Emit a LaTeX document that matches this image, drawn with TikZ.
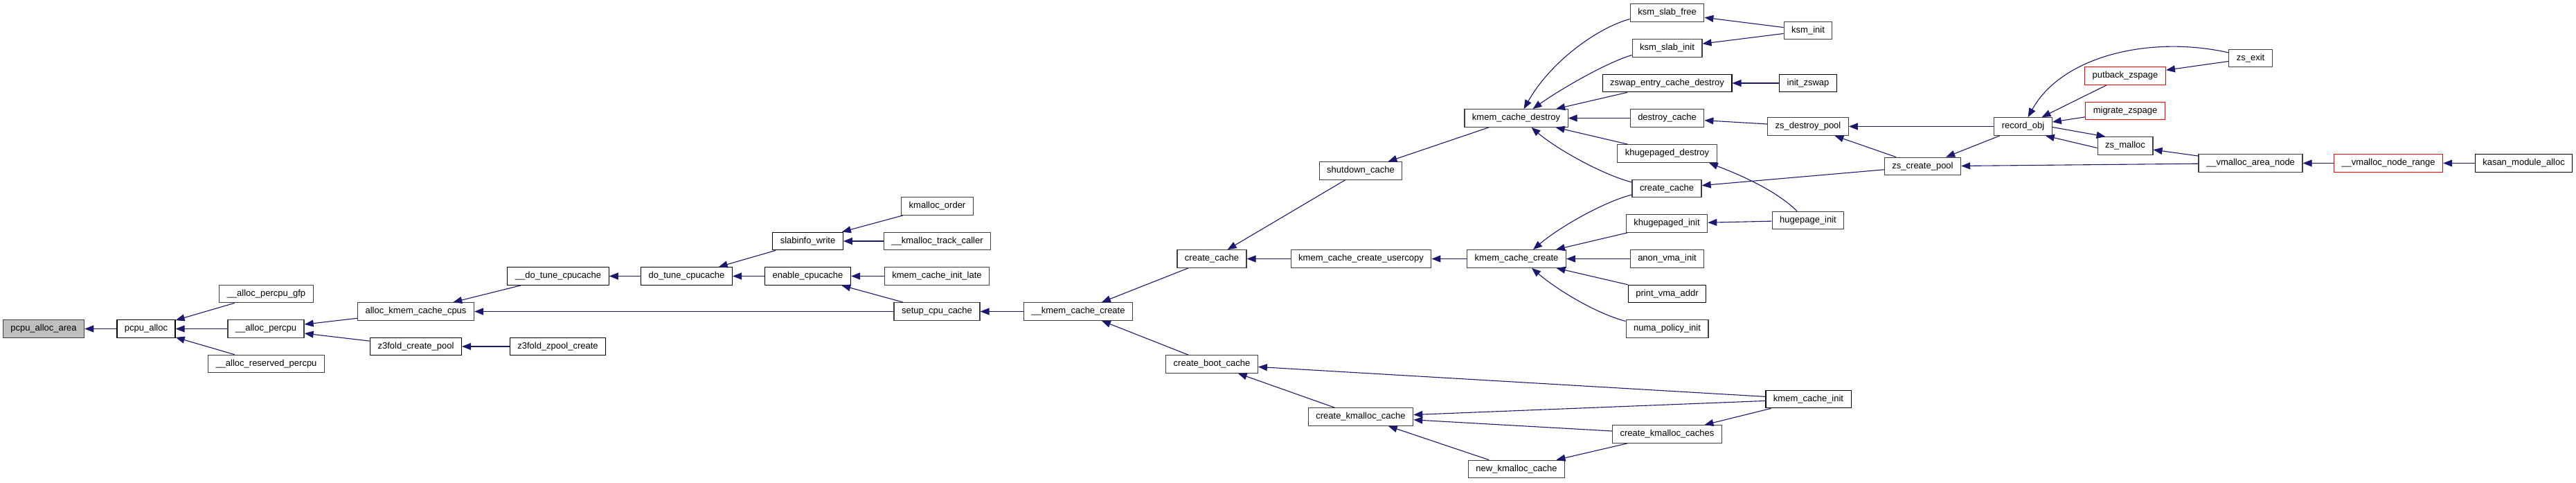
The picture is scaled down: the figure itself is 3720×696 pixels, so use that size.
\documentclass[tikz,border=0pt]{standalone}
\usepackage{fontspec}
\setmainfont{Liberation Sans}
\usetikzlibrary{arrows.meta}

\definecolor{edgeblue}{HTML}{191970}
\definecolor{undoc}{HTML}{404040}
\definecolor{rootfill}{HTML}{BFBFBF}

\begin{document}
\begin{tikzpicture}[
    x=1pt, y=-1pt,
    fn/.style={rectangle, draw=undoc, line width=1.2pt, fill=white, minimum height=25.5pt,
               inner xsep=11pt, inner ysep=0pt, font=\fontsize{13}{15}\selectfont},
    doc/.style={fn, draw=black},
    root/.style={fn, fill=rootfill},
    trunc/.style={fn, draw=red},
    call/.style={edgeblue, line width=1.1pt, -{Triangle[length=13pt, width=10pt]}},
]
    \useasboundingbox (0,0) rectangle (3720,696);

    % --- Root and percpu allocators ---
    \node[root] (pcpuArea)    at (63, 474.5)    {pcpu\_alloc\_area};
    \node[doc]  (pcpuAlloc)   at (211, 474.5)   {pcpu\_alloc};
    \node[fn]   (allocGfp)    at (384.5, 424)   {\_\_alloc\_percpu\_gfp};
    \node[fn]   (allocPercpu) at (384, 474.5)   {\_\_alloc\_percpu};
    \node[fn]   (allocRes)    at (384.5, 525)   {\_\_alloc\_reserved\_percpu};

    % --- cpu caches ---
    \node[fn]  (kcCpus)    at (600.5, 449.5)  {alloc\_kmem\_cache\_cpus};
    \node[doc] (zfPool)    at (600.5, 500)    {z3fold\_create\_pool};
    \node[doc] (doTuneU)   at (806, 398.5)    {\_\_do\_tune\_cpucache};
    \node[doc] (zfZpool)   at (805.5, 500)    {z3fold\_zpool\_create};
    \node[doc] (doTune)    at (991.5, 398.5)  {do\_tune\_cpucache};
    \node[doc] (slabWrite) at (1166.5, 348)   {slabinfo\_write};
    \node[doc] (enableCc)  at (1166.5, 398.5) {enable\_cpucache};
    \node[fn]  (kmOrder)   at (1353.5, 297.5) {kmalloc\_order};
    \node[fn]  (kmTrack)   at (1353.5, 348)   {\_\_kmalloc\_track\_caller};
    \node[fn]  (initLate)  at (1353, 398.5)   {kmem\_cache\_init\_late};
    \node[fn]  (setupCc)   at (1353, 449.5)   {setup\_cpu\_cache};

    % --- cache creation ---
    \node[fn] (kcCreateU)    at (1557, 449.5)   {\_\_kmem\_cache\_create};
    \node[fn] (createCacheL) at (1750, 373.5)   {create\_cache};
    \node[fn] (bootCache)    at (1750, 525.5)   {create\_boot\_cache};
    \node[fn] (shutdown)     at (1965, 246.5)   {shutdown\_cache};
    \node[fn] (usercopy)     at (1965.5, 373.5) {kmem\_cache\_create\_usercopy};
    \node[fn] (kmalCache)    at (1965, 601.5)   {create\_kmalloc\_cache};
    \node[fn] (kcDestroy)    at (2189.5, 170.5) {kmem\_cache\_destroy};
    \node[fn] (kcCreate)     at (2190, 373.5)   {kmem\_cache\_create};
    \node[fn] (newKmal)      at (2190, 677)     {new\_kmalloc\_cache};

    % --- callers of destroy / create ---
    \node[fn]  (ksmFree)      at (2407.5, 18.5)  {ksm\_slab\_free};
    \node[fn]  (ksmSInit)     at (2407.5, 69.5)  {ksm\_slab\_init};
    \node[doc] (zswapDestroy) at (2407.5, 120)   {zswap\_entry\_cache\_destroy};
    \node[fn]  (destroyCache) at (2407.5, 170.5) {destroy\_cache};
    \node[fn]  (khDestroy)    at (2407.5, 221.5) {khugepaged\_destroy};
    \node[fn]  (createCacheR) at (2407, 272)     {create\_cache};
    \node[fn]  (khInit)       at (2407, 322.5)   {khugepaged\_init};
    \node[fn]  (anonInit)     at (2407.5, 373.5) {anon\_vma\_init};
    \node[doc] (printVma)     at (2407.5, 424)   {print\_vma\_addr};
    \node[fn]  (numaInit)     at (2407.5, 474.5) {numa\_policy\_init};
    \node[fn]  (kmalCaches)   at (2407.5, 626.5) {create\_kmalloc\_caches};

    \node[fn]  (ksmInit)   at (2611, 44)      {ksm\_init};
    \node[doc] (initZswap) at (2611, 120)     {init\_zswap};
    \node[fn]  (zsDestroy) at (2611, 182.5)   {zs\_destroy\_pool};
    \node[fn]  (hugeInit)  at (2611, 318)     {hugepage\_init};
    \node[doc] (kcInit)    at (2611.5, 576)   {kmem\_cache\_init};

    % --- zsmalloc and vmalloc ---
    \node[fn]    (zsCreate)  at (2776.5, 240)   {zs\_create\_pool};
    \node[fn]    (recordObj) at (2921.5, 182.5) {record\_obj};
    \node[trunc] (putback)   at (3069, 109.5)   {putback\_zspage};
    \node[trunc] (migrate)   at (3069, 160)     {migrate\_zspage};
    \node[fn]    (zsMalloc)  at (3069, 210.5)   {zs\_malloc};
    \node[fn]    (zsExit)    at (3250, 84)      {zs\_exit};
    \node[fn]    (vmArea)    at (3250, 235.5)   {\_\_vmalloc\_area\_node};
    \node[trunc] (vmRange)   at (3449, 235.5)   {\_\_vmalloc\_node\_range};
    \node[doc]   (kasan)     at (3644.5, 235.5) {kasan\_module\_alloc};

    % --- Calls, left part ---
    \draw[call] (pcpuAlloc) -- (pcpuArea);
    \draw[call] (allocGfp) -- (pcpuAlloc);
    \draw[call] (allocPercpu) -- (pcpuAlloc);
    \draw[call] (allocRes) -- (pcpuAlloc);
    \draw[call] (kcCpus) -- (allocPercpu);
    \draw[call] (zfPool) -- (allocPercpu);
    \draw[call] (doTuneU) -- (kcCpus);
    \draw[call] (setupCc) -- (kcCpus);
    \draw[call] (zfZpool) -- (zfPool);
    \draw[call] (doTune) -- (doTuneU);
    \draw[call] (slabWrite) -- (doTune);
    \draw[call] (enableCc) -- (doTune);
    \draw[call] (kmOrder) -- (slabWrite);
    \draw[call] (kmTrack) -- (slabWrite);
    \draw[call] (initLate) -- (enableCc);
    \draw[call] (setupCc) -- (enableCc);
    \draw[call] (kcCreateU) -- (setupCc);

    % --- Calls, middle part ---
    \draw[call] (createCacheL) -- (kcCreateU);
    \draw[call] (bootCache) -- (kcCreateU);
    \draw[call] (shutdown) -- (createCacheL);
    \draw[call] (usercopy) -- (createCacheL);
    \draw[call] (kcInit) -- (bootCache);
    \draw[call] (kmalCache) -- (bootCache);
    \draw[call] (kcDestroy) -- (shutdown);
    \draw[call] (kcCreate) -- (usercopy);
    \draw[call] (kcInit) -- (kmalCache);
    \draw[call] (kmalCaches) -- (kmalCache);
    \draw[call] (newKmal) -- (kmalCache);
    \draw[call] (kmalCaches) -- (newKmal);
    \draw[call] (kcInit) -- (kmalCaches);

    \draw[call] ([yshift=-9pt]ksmFree.west) .. controls +(-45,12) and +(40,-70) .. ([xshift=11pt]kcDestroy.north);
    \draw[call] ([yshift=-10pt]ksmSInit.west) .. controls +(-40,12) and +(35,-25) .. ([xshift=24pt]kcDestroy.north);
    \draw[call] (zswapDestroy) -- (kcDestroy);
    \draw[call] (destroyCache) -- (kcDestroy);
    \draw[call] (khDestroy) -- (kcDestroy);
    \draw[call] ([yshift=9pt]createCacheR.west) .. controls +(-45,-12) and +(35,30) .. ([xshift=22pt]kcDestroy.south);
    \draw[call] ([yshift=-9pt]createCacheR.west) .. controls +(-45,12) and +(35,-30) .. ([xshift=24pt]kcCreate.north);
    \draw[call] (khInit) -- (kcCreate);
    \draw[call] (anonInit) -- (kcCreate);
    \draw[call] (printVma) -- (kcCreate);
    \draw[call] ([yshift=11pt]numaInit.west) .. controls +(-45,-12) and +(35,30) .. ([xshift=22pt]kcCreate.south);

    % --- Calls, right part ---
    \draw[call] (ksmInit) -- (ksmFree);
    \draw[call] (ksmInit) -- (ksmSInit);
    \draw[call] (initZswap) -- (zswapDestroy);
    \draw[call] (zsDestroy) -- (destroyCache);
    \draw[call] ([xshift=-16pt]hugeInit.north) .. controls +(-35,-35) and +(25,10) .. ([xshift=-12pt]khDestroy.south east);
    \draw[call] (zsCreate) -- (createCacheR);
    \draw[call] (hugeInit) -- (khInit);
    \draw[call] (recordObj) -- (zsDestroy);
    \draw[call] (zsCreate) -- (zsDestroy);
    \draw[call] (recordObj) -- (zsCreate);
    \draw[call] (vmArea) -- (zsCreate);
    \draw[call] ([yshift=8pt]zsExit.west) .. controls +(-110,-25) and +(50,-90) .. ([xshift=7pt]recordObj.north);
    \draw[call] (putback) -- (recordObj);
    \draw[call] (migrate) -- (recordObj);
    \draw[call] ([yshift=-1pt]recordObj.east) -- ([xshift=12pt]zsMalloc.north west);
    \draw[call] ([yshift=-3pt]zsMalloc.west) -- ([xshift=-10pt]recordObj.south east);
    \draw[call] (zsExit) -- (putback);
    \draw[call] (vmArea) -- (zsMalloc);
    \draw[call] (vmRange) -- (vmArea);
    \draw[call] (kasan) -- (vmRange);

\end{tikzpicture}
\end{document}
